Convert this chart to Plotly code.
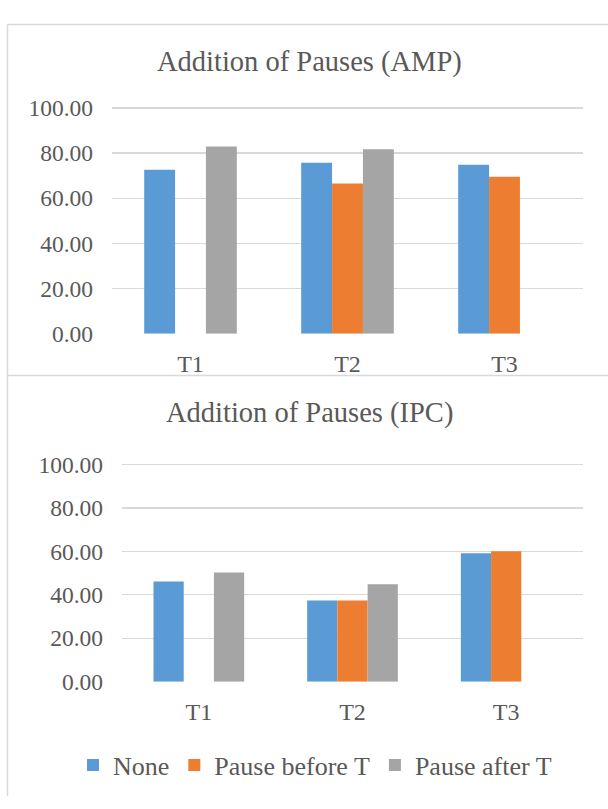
import plotly.graph_objects as go

W, H = 608, 809

categories = ["T1", "T2", "T3"]
series_names = ["None", "Pause before T", "Pause after T"]
colors = ["#5B9BD5", "#ED7D31", "#A5A5A5"]

amp_none = [72.6, 75.7, 74.8]
amp_before = [None, 66.5, 69.5]
amp_after = [82.9, 81.7, None]

ipc_none = [46.1, 37.4, 59.1]
ipc_before = [None, 37.4, 60.1]
ipc_after = [50.3, 44.9, None]

y_ticks = [0, 20, 40, 60, 80, 100]
Y_MAX = 100.5

titles = ["Addition of Pauses (AMP)", "Addition of Pauses (IPC)"]

FONT = "Liberation Serif, Times New Roman, serif"
TXT = "#595959"
GRID = "#D9D9D9"


def px_x(p):
    return p / W


def px_y(p):
    return 1 - p / H


def y_domain(y0, y100):
    top = y0 - (y0 - y100) * Y_MAX / 100
    return [px_y(y0), px_y(top)]


fig = go.Figure()

amp = [amp_none, amp_before, amp_after]
ipc = [ipc_none, ipc_before, ipc_after]

for i, name in enumerate(series_names):
    fig.add_trace(go.Bar(x=categories, y=amp[i], name=name, marker_color=colors[i],
                         marker_line_width=0, xaxis="x", yaxis="y", legendgroup=name,
                         showlegend=False))
for i, name in enumerate(series_names):
    fig.add_trace(go.Bar(x=categories, y=ipc[i], name=name, marker_color=colors[i],
                         marker_line_width=0, xaxis="x2", yaxis="y2", legendgroup=name,
                         showlegend=True))

yaxis_common = dict(range=[0, Y_MAX], tickvals=y_ticks, tickformat=".2f",
                    showgrid=True, gridcolor=GRID, gridwidth=1.3, zeroline=False,
                    showline=False, ticks="", ticklabelstandoff=18,
                    tickfont=dict(family=FONT, size=23.5, color=TXT), fixedrange=True)
xaxis_common = dict(showgrid=False, zeroline=False, showline=False, ticks="",
                    ticklabelstandoff=13,
                    tickfont=dict(family=FONT, size=24, color=TXT), fixedrange=True)

fig.update_layout(
    width=W, height=H, autosize=False,
    margin=dict(l=0, r=0, t=0, b=0),
    paper_bgcolor="white", plot_bgcolor="white",
    barmode="group", bargap=0.41, bargroupgap=0,
    xaxis=dict(domain=[px_x(112), px_x(583)], anchor="y", **xaxis_common),
    yaxis=dict(domain=y_domain(332, 99), anchor="x", **yaxis_common),
    xaxis2=dict(domain=[px_x(122), px_x(583)], anchor="y2", **xaxis_common),
    yaxis2=dict(domain=y_domain(691, 467), anchor="x2", **yaxis_common),
    legend=dict(orientation="h", x=px_x(315), xanchor="center", y=px_y(777),
                yanchor="middle", font=dict(family=FONT, size=26, color=TXT),
                itemwidth=30, bgcolor="rgba(0,0,0,0)", traceorder="normal"),
    showlegend=True,
)

fig.add_annotation(text=titles[0], x=px_x(310), y=px_y(52), xref="paper", yref="paper",
                   xanchor="center", yanchor="middle", showarrow=False,
                   font=dict(family=FONT, size=28.5, color=TXT))
fig.add_annotation(text=titles[1], x=px_x(310), y=px_y(414), xref="paper", yref="paper",
                   xanchor="center", yanchor="middle", showarrow=False,
                   font=dict(family=FONT, size=28.5, color=TXT))

border = dict(color=GRID, width=1.5)
fig.add_shape(type="line", xref="paper", yref="paper", x0=px_x(7.5), x1=px_x(7.5),
              y0=px_y(13), y1=px_y(809), line=border)
fig.add_shape(type="line", xref="paper", yref="paper", x0=px_x(7.5), x1=1,
              y0=px_y(13), y1=px_y(13), line=border)
fig.add_shape(type="line", xref="paper", yref="paper", x0=px_x(7.5), x1=1,
              y0=px_y(375), y1=px_y(375), line=border)

fig.write_html("out.html",
               config={"displayModeBar": False, "staticPlot": True},
               post_script="document.body.style.margin='0px';"
                           "document.body.style.overflow='hidden';")
